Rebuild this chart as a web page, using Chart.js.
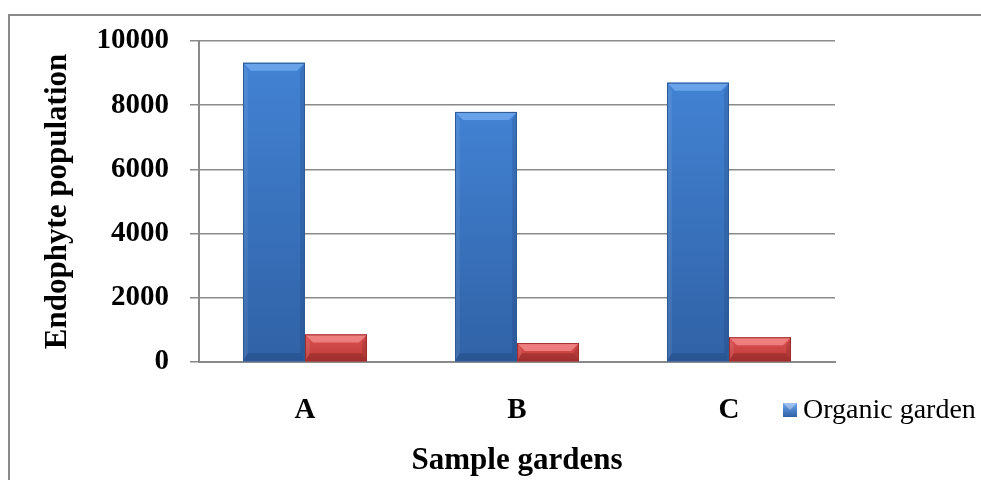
<!DOCTYPE html>
<html><head><meta charset="utf-8">
<script src="https://cdn.jsdelivr.net/npm/chart.js@4/dist/chart.umd.min.js"></script>
<style>html,body{margin:0;padding:0;background:#fff}#wrap{width:981px;height:480px;position:relative}</style>
</head><body><div id="wrap"><canvas id="c" width="981" height="480"></canvas></div>
<script>
const categories = ['A', 'B', 'C'];
const organicValues = [9320, 7790, 8700];
const conventionalValues = [860, 590, 770];
const seriesNames = ['Organic garden', 'Conventional garden'];
const yTickValues = [0, 2000, 4000, 6000, 8000, 10000];
const xTitle = 'Sample gardens';
const yTitle = 'Endophyte population';

const SERIF = '"Liberation Serif", "Times New Roman", serif';
const palettes = [
  {top:'#4282D3', bottom:'#3062A6', light:'rgba(130,185,250,0.6)', dark:'rgba(25,55,105,0.3)', side:'rgba(20,45,90,0.18)', edge:'#2C5A94'},
  {top:'#DC5252', bottom:'#BE3A3A', light:'rgba(255,160,160,0.6)', dark:'rgba(100,20,20,0.3)', side:'rgba(90,15,15,0.18)', edge:'#9E2E2E'}
];

const frame = {
  id: 'frame',
  beforeDraw(chart) {
    const c = chart.ctx;
    c.save();
    c.fillStyle = '#fff';
    c.fillRect(0, 0, chart.width, chart.height);
    c.strokeStyle = '#8a8a8a';
    c.lineWidth = 2;
    c.strokeRect(9, 15, chart.width + 20, chart.height + 20);
    c.restore();
  }
};

function bevelBar(c, x0, x1, y0, y1, p) {
  const h = y1 - y0, w = x1 - x0;
  const b = Math.min(8, h / 2, w / 2);
  const g = c.createLinearGradient(0, y0, 0, y1);
  g.addColorStop(0, p.top);
  g.addColorStop(1, p.bottom);
  c.fillStyle = g;
  c.fillRect(x0, y0, w, h);
  c.fillStyle = p.light;
  c.beginPath(); c.moveTo(x0, y0); c.lineTo(x1, y0); c.lineTo(x1 - b, y0 + b); c.lineTo(x0 + b, y0 + b); c.closePath(); c.fill();
  c.fillStyle = 'rgba(255,255,255,0.08)';
  c.beginPath(); c.moveTo(x0, y0); c.lineTo(x0 + b * 0.6, y0 + b); c.lineTo(x0 + b * 0.6, y1 - b); c.lineTo(x0, y1); c.closePath(); c.fill();
  c.fillStyle = p.side;
  c.beginPath(); c.moveTo(x1, y0); c.lineTo(x1 - b * 0.6, y0 + b); c.lineTo(x1 - b * 0.6, y1 - b); c.lineTo(x1, y1); c.closePath(); c.fill();
  c.fillStyle = p.dark;
  c.beginPath(); c.moveTo(x0, y1); c.lineTo(x1, y1); c.lineTo(x1 - b * 0.6, y1 - b); c.lineTo(x0 + b * 0.6, y1 - b); c.closePath(); c.fill();
  c.strokeStyle = p.edge;
  c.lineWidth = 1;
  c.strokeRect(x0 + 0.5, y0 + 0.5, w - 1, h - 1);
}

const bevel = {
  id: 'bevel',
  afterDatasetsDraw(chart) {
    const c = chart.ctx;
    c.save();
    chart.data.datasets.forEach((ds, i) => {
      const meta = chart.getDatasetMeta(i);
      meta.data.forEach(el => {
        const {x, y, base, width} = el.getProps(['x', 'y', 'base', 'width'], true);
        bevelBar(c, x - width / 2, x + width / 2, Math.min(y, base), Math.max(y, base), palettes[i]);
      });
    });
    c.restore();
  }
};

const customLegend = {
  id: 'customLegend',
  afterDraw(chart) {
    const c = chart.ctx;
    const area = chart.chartArea;
    const bx = area.right - 52, cy = area.bottom + 48, s = 14;
    c.save();
    const g = c.createLinearGradient(0, cy - s / 2, 0, cy + s / 2);
    g.addColorStop(0, '#6CA6EE'); g.addColorStop(1, '#2E60A4');
    c.fillStyle = g;
    c.fillRect(bx, cy - s / 2, s, s);
    c.fillStyle = 'rgba(255,255,255,0.35)';
    c.beginPath(); c.moveTo(bx, cy - s / 2); c.lineTo(bx + s, cy - s / 2); c.lineTo(bx + s / 2, cy); c.closePath(); c.fill();
    c.fillStyle = '#000';
    c.font = '28px ' + SERIF;
    c.textBaseline = 'middle';
    c.textAlign = 'left';
    c.fillText(seriesNames[0], bx + s + 6, cy + 1);
    c.restore();
  }
};

new Chart(document.getElementById('c'), {
  type: 'bar',
  data: {
    labels: categories,
    datasets: [
      {label: seriesNames[0], data: organicValues, backgroundColor: palettes[0].top, borderWidth: 0},
      {label: seriesNames[1], data: conventionalValues, backgroundColor: palettes[1].top, borderWidth: 0}
    ]
  },
  options: {
    responsive: false,
    animation: false,
    devicePixelRatio: 1,
    layout: {padding: {left: 0, right: 146, top: 41, bottom: 0}},
    datasets: {bar: {barPercentage: 1, categoryPercentage: 0.585}},
    plugins: {legend: {display: false}, tooltip: {enabled: false}},
    scales: {
      x: {
        grid: {display: false, drawTicks: false},
        border: {display: true, color: '#8a8a8a', width: 2},
        ticks: {color: '#000', font: {family: SERIF, size: 29, weight: 'bold'}, padding: 31},
        title: {display: true, text: xTitle, color: '#000', font: {family: SERIF, size: 31, weight: 'bold'}, padding: {top: 0, bottom: 0}},
        afterFit(scale) { scale.height = 118; }
      },
      y: {
        min: 0, max: 10000,
        afterBuildTicks(scale) { scale.ticks = yTickValues.map(v => ({value: v})); },
        grid: {color: '#8a8a8a', lineWidth: 1.5, tickLength: 9, drawTicks: true},
        border: {display: true, color: '#8a8a8a', width: 2},
        ticks: {color: '#000', font: {family: SERIF, size: 29, weight: 'bold'}, padding: 21, callback: (v) => String(v)},
        title: {display: true, text: yTitle, color: '#000', font: {family: SERIF, size: 31, weight: 'bold'}, padding: {top: 39, bottom: 0}},
        afterFit(scale) { scale.width = 199; }
      }
    }
  },
  plugins: [frame, bevel, customLegend]
});
</script>
</body></html>
